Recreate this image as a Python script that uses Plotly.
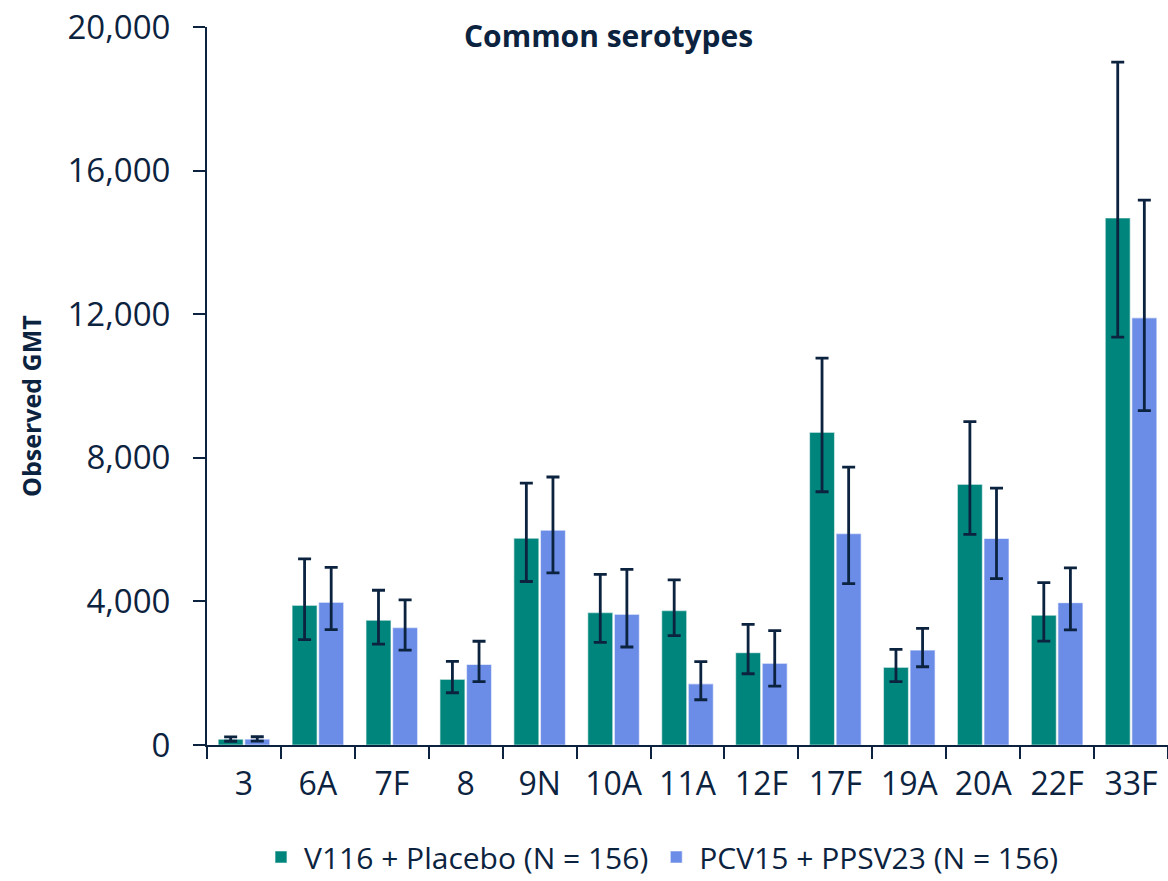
import plotly.graph_objects as go

serotypes = ["3", "6A", "7F", "8", "9N", "10A", "11A", "12F", "17F", "19A", "20A", "22F", "33F"]

v116_gmt = [160, 3890, 3475, 1830, 5760, 3690, 3745, 2570, 8710, 2165, 7260, 3615, 14680]
v116_low = [105, 2935, 2810, 1455, 4555, 2860, 3045, 1985, 7055, 1765, 5865, 2895, 11360]
v116_high = [225, 5185, 4310, 2330, 7295, 4755, 4600, 3360, 10775, 2665, 9005, 4525, 19020]

pcv_gmt = [165, 3975, 3270, 2245, 5985, 3640, 1705, 2275, 5890, 2645, 5755, 3965, 11900]
pcv_low = [110, 3215, 2645, 1765, 4795, 2730, 1260, 1640, 4495, 2180, 4635, 3205, 9315]
pcv_high = [230, 4945, 4040, 2890, 7465, 4890, 2320, 3185, 7740, 3250, 7155, 4935, 15175]

series_names = ["V116 + Placebo (N = 156)", "PCV15 + PPSV23 (N = 156)"]
y_ticks = [0, 4000, 8000, 12000, 16000, 20000]

NAVY = "#0C2340"
TEAL = "#00857C"
BLUE = "#6B8CE7"
FONT = "Open Sans"

W, H = 1168, 881
ML, MR, MT, MB = 207, 0, 27, 136
PW, PH = W - ML - MR, H - MT - MB


def px_x(x):
    return (x - ML) / PW


def px_y(y):
    return 1 - (y - MT) / PH


def err(vals, lows, highs):
    return dict(
        type="data",
        symmetric=False,
        array=[h - v for v, h in zip(vals, highs)],
        arrayminus=[v - l for v, l in zip(vals, lows)],
        color=NAVY,
        thickness=2.8,
        width=6.5,
    )


fig = go.Figure()
fig.add_trace(go.Bar(
    name=series_names[0], x=serotypes, y=v116_gmt,
    marker=dict(color=TEAL, line=dict(color="rgba(255,255,255,0.55)", width=1.2)),
    error_y=err(v116_gmt, v116_low, v116_high),
))
fig.add_trace(go.Bar(
    name=series_names[1], x=serotypes, y=pcv_gmt,
    marker=dict(color=BLUE, line=dict(color="rgba(255,255,255,0.55)", width=1.2)),
    error_y=err(pcv_gmt, pcv_low, pcv_high),
))

fig.update_layout(
    width=W, height=H,
    margin=dict(l=ML, r=MR, t=MT, b=MB, autoexpand=False),
    paper_bgcolor="white", plot_bgcolor="white",
    barmode="group", bargap=0.28, bargroupgap=0.06,
    font=dict(family=FONT, color=NAVY, size=30),
    showlegend=True,
    legend=dict(
        orientation="h", x=px_x(661), xanchor="center",
        yref="container", y=1 - 857 / H, yanchor="middle",
        font=dict(family=FONT, size=30, color=NAVY),
        itemwidth=36, traceorder="normal",
    ),
    annotations=[
        dict(
            text="<b>Common serotypes</b>", xref="paper", yref="paper",
            x=px_x(608), y=px_y(35), xanchor="center", yanchor="middle",
            showarrow=False, font=dict(family=FONT, size=30, color=NAVY),
        ),
        dict(
            text="<b>Observed GMT</b>", xref="paper", yref="paper",
            x=px_x(31), y=px_y(406), xanchor="center", yanchor="middle",
            textangle=-90, showarrow=False, font=dict(family=FONT, size=25, color=NAVY),
        ),
    ],
)

fig.update_xaxes(
    type="category", showline=True, linecolor=NAVY, linewidth=2,
    ticks="outside", tickson="boundaries", ticklen=12, tickwidth=2, tickcolor=NAVY,
    tickfont=dict(family=FONT, size=32, color=NAVY), showgrid=False,
    ticklabelstandoff=10, automargin=False,
)
fig.update_yaxes(
    range=[0, 20000], tickvals=y_ticks, tickformat=",d",
    showline=True, linecolor=NAVY, linewidth=2,
    ticks="outside", ticklen=12, tickwidth=2, tickcolor=NAVY,
    tickfont=dict(family=FONT, size=33, color=NAVY), showgrid=False, zeroline=False,
    ticklabelstandoff=16, automargin=False,
)

fig.write_html("out.html")
